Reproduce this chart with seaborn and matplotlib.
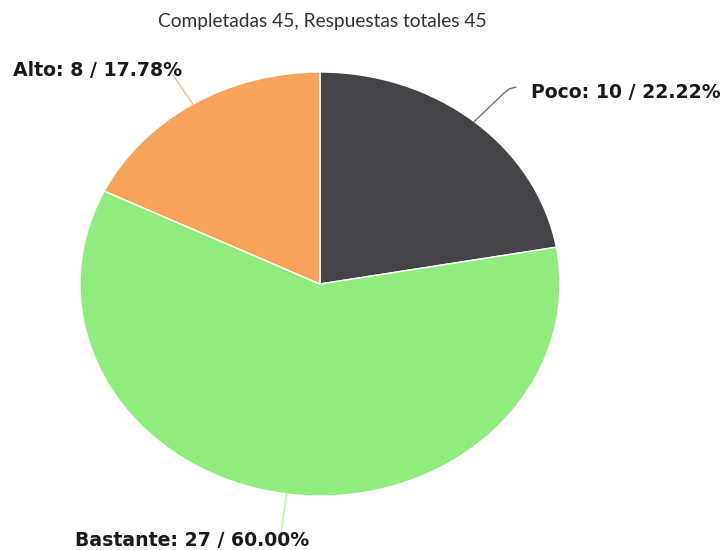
import numpy as np
import matplotlib
matplotlib.use("Agg")
import matplotlib.pyplot as plt
import seaborn as sns

# data
categories = ["Poco", "Bastante", "Alto"]
counts = [10, 27, 8]
colors = ["#434348", "#90ed7d", "#f7a35c"]
title = "Completadas 45, Respuestas totales 45"

sns.set_theme(style="white")
plt.rcParams["font.family"] = ["DejaVu Sans"]

W, H = 728, 550
fig = plt.figure(figsize=(W / 100, H / 100), dpi=100)
# pie box in pixels: center (320, 284), rx 240, ry 212
cx, cy, rx, ry = 320, 284, 240, 212
ax = fig.add_axes([(cx - rx) / W, (H - cy - ry) / H, 2 * rx / W, 2 * ry / H])

wedges, _ = ax.pie(counts, colors=colors, startangle=90, counterclock=False,
                   radius=1, wedgeprops=dict(edgecolor="white", linewidth=1))
ax.set_aspect("auto")
ax.set_xlim(-1, 1)
ax.set_ylim(-1, 1)
ax.axis("off")

total = sum(counts)

def px(x, y):
    # figure pixel -> data coords
    return (x - cx) / rx, (cy - y) / ry

# label text anchor (pixels), connector points (pixels)
label_pos = {
    "Poco": ((531, 92), [(504, 93), (509, 89), (516, 87)]),
    "Bastante": ((75, 541), [(281, 533)]),
    "Alto": ((13, 70), [(173, 75)]),
}

for w, cat, n in zip(wedges, categories, counts):
    mid = np.deg2rad((w.theta1 + w.theta2) / 2)
    ex, ey = np.cos(mid), np.sin(mid)
    (tx, ty), pts = label_pos[cat]
    xs = [ex] + [px(*p)[0] for p in pts]
    ys = [ey] + [px(*p)[1] for p in pts]
    ax.plot(xs, ys, color=w.get_facecolor(), lw=1, alpha=0.75, clip_on=False)
    lx, ly = px(tx, ty)
    ax.text(lx, ly, f"{cat}: {n} / {n / total * 100:.2f}%", ha="left", va="center",
            fontsize=13.6, fontweight="bold", color="#1a1a1a", clip_on=False)

fig.text(322 / W, 1 - 21 / H, title, ha="center", va="center",
         fontsize=13.8, color="#333333", family=["Lato", "DejaVu Sans"])

fig.savefig("out.png", dpi=100, facecolor="white")
